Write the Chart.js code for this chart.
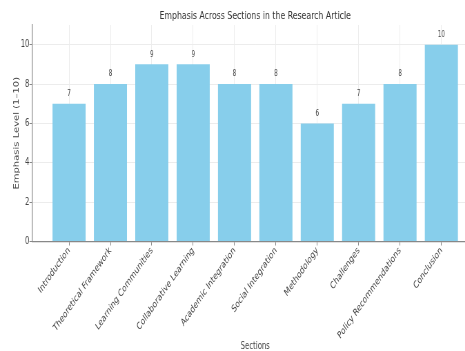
<!DOCTYPE html>
<html>
<head>
<meta charset="utf-8">
<script src="https://cdn.jsdelivr.net/npm/chart.js@4.4.1/dist/chart.umd.min.js"></script>
<style>
html, body { margin: 0; padding: 0; background: #fff; overflow: hidden; width: 465px; height: 351px; }
/* the reference is a horizontally squeezed matplotlib figure, cut off on the right */
#wrap { width: 742px; height: 351px; transform: scaleX(0.69); transform-origin: 0 0; }
canvas { display: block; }
</style>
</head>
<body>
<div id="wrap"><canvas id="chart" width="742" height="351"></canvas></div>
<script>
// data
const sections = [
  "Introduction", "Theoretical Framework", "Learning Communities",
  "Collaborative Learning", "Academic Integration", "Social Integration",
  "Methodology", "Challenges", "Policy Recommendations", "Conclusion"
];
const emphasis = [7, 8, 9, 9, 8, 8, 6, 7, 8, 10];
const yTicks = [0, 2, 4, 6, 8, 10];
const chartTitle = "Emphasis Across Sections in the Research Article";

const FONT = "'DejaVu Sans', sans-serif";
const TEXT = "#444";

// value labels over each bar
const barLabels = {
  id: "barLabels",
  afterDatasetsDraw(chart) {
    const ctx = chart.ctx;
    const y = chart.scales.y;
    ctx.save();
    ctx.font = "8px " + FONT;
    ctx.fillStyle = TEXT;
    ctx.textAlign = "center";
    ctx.textBaseline = "middle";
    chart.getDatasetMeta(0).data.forEach((bar, i) => {
      ctx.fillText(String(emphasis[i]), bar.x, y.getPixelForValue(emphasis[i] + 0.5));
    });
    ctx.restore();
  }
};

// title centred over the plot area, like matplotlib does
const axesTitle = {
  id: "axesTitle",
  afterDraw(chart) {
    const ctx = chart.ctx;
    const a = chart.chartArea;
    ctx.save();
    ctx.font = "11.3px " + FONT;
    ctx.fillStyle = "#333";
    ctx.textAlign = "center";
    ctx.textBaseline = "middle";
    ctx.fillText(chartTitle, (a.left + a.right) / 2, 16.5);
    ctx.restore();
  }
};

new Chart(document.getElementById("chart"), {
  type: "bar",
  data: {
    datasets: [{
      data: emphasis.map((v, i) => ({ x: i, y: v })),
      backgroundColor: "#87CEEB",
      barPercentage: 0.8,
      categoryPercentage: 1.0
    }]
  },
  options: {
    responsive: false,
    animation: false,
    devicePixelRatio: 1,
    layout: { padding: { left: 18, right: 49, top: 25, bottom: 0 } },
    plugins: {
      legend: { display: false },
      tooltip: { enabled: false },
      title: { display: false }
    },
    scales: {
      x: {
        type: "linear",
        offset: false,
        min: -0.89,
        max: 9.89,
        afterBuildTicks: s => { s.ticks = sections.map((c, i) => ({ value: i })); },
        ticks: {
          autoSkip: false,
          minRotation: 45,
          maxRotation: 45,
          padding: 0,
          color: TEXT,
          font: { family: FONT, size: 10, lineHeight: 1.0 },
          callback: v => sections[v] ?? ""
        },
        grid: { offset: false, color: "#ececec", tickColor: "#888", tickLength: 4 },
        border: { color: "#888", width: 1.2 },
        title: {
          display: true,
          text: "Sections",
          color: TEXT,
          font: { family: FONT, size: 10, lineHeight: 1.0 },
          padding: { top: 0, bottom: 0 }
        }
      },
      y: {
        min: 0,
        max: 11,
        afterBuildTicks: s => { s.ticks = yTicks.map(v => ({ value: v })); },
        ticks: {
          padding: 0,
          color: TEXT,
          font: { family: FONT, size: 10 }
        },
        grid: { color: "#ececec", tickColor: "#888", tickLength: 4 },
        border: { color: "#888", width: 1.2 },
        title: {
          display: true,
          text: "Emphasis Level (1\u201310)",
          color: TEXT,
          font: { family: FONT, size: 10 },
          padding: { top: 0, bottom: 0 }
        }
      }
    }
  },
  plugins: [barLabels, axesTitle]
});
</script>
</body>
</html>
